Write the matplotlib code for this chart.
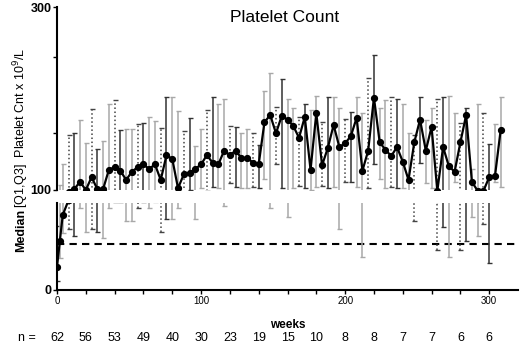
import matplotlib
matplotlib.use('Agg')
import matplotlib.pyplot as plt

# median platelet count and quartiles
weeks = [0, 2, 4, 8, 12, 16, 20, 24, 28, 32, 36, 40, 44, 48, 52, 56, 60, 64, 68, 72,
         76, 80, 84, 88, 92, 96, 100, 104, 108, 112, 116, 120, 124, 128, 132, 136, 140,
         144, 148, 152, 156, 160, 164, 168, 172, 176, 180, 184, 188, 192, 196, 200, 204,
         208, 212, 216, 220, 224, 228, 232, 236, 240, 244, 248, 252, 256, 260, 264, 268,
         272, 276, 280, 284, 288, 292, 296, 300, 304, 308]
median = [25, 54, 82, 98, 101, 109, 100, 114, 101, 101, 122, 125, 121, 111, 120, 125, 128, 123, 128, 111,
          138, 134, 102, 117, 119, 123, 128, 138, 130, 128, 143, 138, 143, 135, 135, 130, 128,
          174, 182, 162, 181, 177, 170, 157, 180, 122, 184, 127, 146, 171, 147, 151, 159,
          179, 121, 143, 201, 152, 144, 137, 147, 131, 111, 152, 177, 143, 169, 99, 147,
          126, 120, 152, 182, 109, 99, 99, 114, 115, 166]
q1 = [10, 35, 62, 67, 59, 89, 63, 67, 63, 57, 90, 96, 96, 75, 75, 89, 96, 89, 96, 63,
      78, 77, 89, 98, 100, 78, 102, 99, 103, 102, 92, 108, 103, 102, 102, 103, 102,
      112, 90, 128, 102, 80, 102, 104, 102, 100, 103, 104, 102, 103, 67, 109, 109,
      103, 36, 102, 128, 112, 102, 103, 102, 102, 98, 75, 130, 108, 102, 44, 69,
      36, 109, 44, 54, 80, 59, 72, 29, 109, 103]
q3 = [70, 105, 128, 160, 162, 177, 151, 189, 145, 154, 194, 198, 166, 167, 167, 172, 173, 180, 175, 168,
      202, 202, 186, 164, 179, 148, 167, 187, 202, 194, 199, 170, 169, 162, 167, 162, 149,
      208, 228, 191, 221, 199, 190, 180, 194, 187, 203, 174, 202, 202, 190, 178, 185,
      202, 184, 222, 247, 190, 198, 202, 199, 194, 162, 160, 202, 177, 190, 199, 202,
      203, 184, 173, 190, 123, 194, 184, 150, 172, 202]

n_weeks = [0, 20, 40, 60, 80, 100, 120, 140, 160, 180, 200, 220, 240, 260, 280, 300]
n_pts = [62, 56, 53, 49, 40, 30, 23, 19, 15, 10, 8, 8, 7, 7, 6, 6]

plt.rcParams['font.family'] = ['Liberation Sans', 'DejaVu Sans']

fig = plt.figure(figsize=(5.2, 3.46), dpi=100)
ax_top = fig.add_axes([57/520, 1-190/346, 461/520, 183/346])
ax_bot = fig.add_axes([57/520, 1-290/346, 461/520, 87/346])

bar_styles = [dict(color='#333333', ls='-'), dict(color='#a8a8a8', ls='-'),
              dict(color='#a8a8a8', ls='-'), dict(color='#444444', ls=':')]

for ax in (ax_top, ax_bot):
    for k, st in enumerate(bar_styles):
        idx = [i for i in range(len(weeks)) if i % len(bar_styles) == k]
        x = [weeks[i] for i in idx]
        m = [median[i] for i in idx]
        lo = [median[i] - q1[i] for i in idx]
        hi = [q3[i] - median[i] for i in idx]
        eb = ax.errorbar(x, m, yerr=[lo, hi], fmt='none', ecolor=st['color'],
                         elinewidth=1.1, capsize=1.8, capthick=1.0, zorder=2)
        eb[2][0].set_linestyle(st['ls'])
    ax.plot(weeks, median, color='black', lw=1.6, marker='o', ms=4.2, zorder=3)
    ax.set_xlim(0, 320)
    for s in ('top', 'right'):
        ax.spines[s].set_visible(False)
    ax.spines['left'].set_linewidth(1.5)

ax_top.set_ylim(100, 300)
ax_top.spines['bottom'].set_visible(False)
ax_top.set_xticks([])
ax_top.set_yticks([100, 162, 245, 300])
ax_top.set_yticklabels(['100', '', '', '300'], fontweight='bold', fontsize=9)
ax_top.tick_params(axis='y', length=3, width=1, pad=1)

ax_bot.set_ylim(0, 95)
ax_bot.spines['bottom'].set_linewidth(1.5)
ax_bot.axhline(50, color='black', ls=(0, (3.5, 2.5)), lw=1.5, zorder=1)
ax_bot.set_yticks([0])
ax_bot.set_yticklabels(['0'], fontweight='bold', fontsize=9)
ax_bot.tick_params(axis='y', length=3, width=1, pad=1)
ax_bot.set_xticks([0, 100, 200, 300])
ax_bot.set_xticks(n_weeks, minor=True)
ax_bot.tick_params(axis='x', which='both', length=3, width=1, labelsize=7, pad=1)
ax_bot.set_xlabel('weeks', fontsize=8.5, fontweight='bold', labelpad=10)

fig.text(285/520, 1-18/346, 'Platelet Count', ha='center', va='center', fontsize=12.5)
# y label: bold "Median" in the lower part, the rest above it
fig.text(21/520, 1-230/346, 'Median', rotation=90, ha='center', va='center',
         fontsize=9, fontweight='bold')
fig.text(21/520, 1-128/346, '[Q1,Q3]  Platelet Cnt x 10$^9$/L', rotation=90,
         ha='center', va='center', fontsize=9)

for w, n in zip(n_weeks, n_pts):
    ax_bot.annotate(str(n), xy=(w, 0), xycoords=('data', 'axes fraction'),
                    xytext=(0, -34.5), textcoords='offset points',
                    ha='center', va='center', fontsize=9, annotation_clip=False)
fig.text(18/520, 1-338/346, 'n =', ha='left', va='center', fontsize=9)

fig.savefig('out.png', dpi=100)
